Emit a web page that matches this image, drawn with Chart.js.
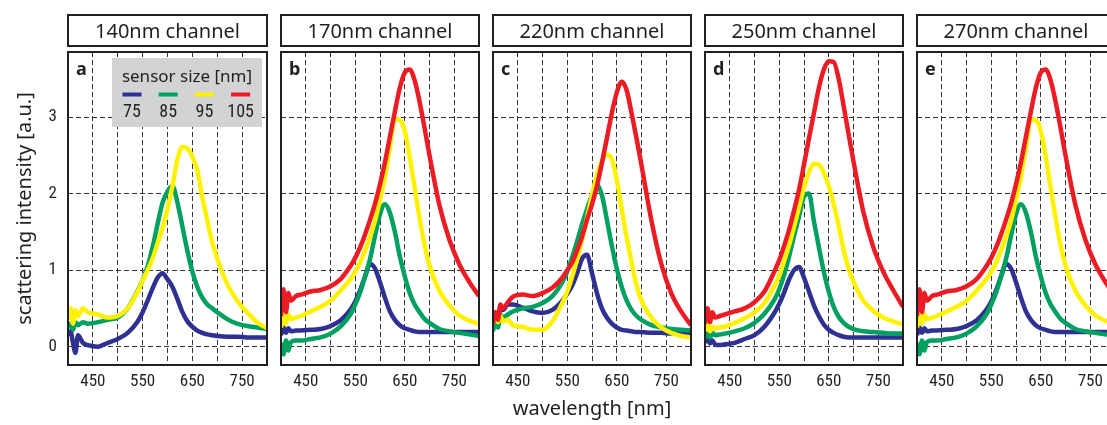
<!DOCTYPE html>
<html>
<head>
<meta charset="utf-8">
<script src="https://cdn.jsdelivr.net/npm/chart.js@4/dist/chart.umd.min.js"></script>
<style>
html, body { margin: 0; padding: 0; background: #fff; width: 1107px; height: 425px; overflow: hidden; position: relative; }
canvas { position: absolute; top: 0; }
</style>
</head>
<body>
<script>
// wavelength grid shared by every spectrum (nm)
var wavelength = [400, 405, 410, 415, 420, 430, 440, 460, 480, 500, 520, 540, 550, 560, 570, 580, 590,
                  600, 610, 620, 630, 640, 650, 660, 670, 680, 690, 700, 720, 740, 760, 780, 800];
var xLabels = [450, 550, 650, 750];
var yLabels = [0, 1, 2, 3];
var sizes = ['75', '85', '95', '105'];
var colors = ['#2e3192', '#00a160', '#fff200', '#ed1c24'];
var panelTitles = ['140nm channel', '170nm channel', '220nm channel', '250nm channel', '270nm channel'];
var panelLetters = ['a', 'b', 'c', 'd', 'e'];

// a - 140nm channel (no 105nm sensor)
var a75  = [0.15, 0.2, 0.05, -0.08, 0.15, 0.05, 0.02, 0.0, 0.05, 0.1, 0.18, 0.33, 0.45, 0.6, 0.76, 0.9, 0.96, 0.88, 0.78, 0.62, 0.45, 0.33, 0.26, 0.21, 0.18, 0.16, 0.15, 0.14, 0.13, 0.13, 0.12, 0.12, 0.12];
var a85  = [0.25, 0.3, 0.22, 0.32, 0.28, 0.32, 0.3, 0.32, 0.35, 0.38, 0.5, 0.73, 0.87, 1.05, 1.3, 1.6, 1.88, 2.03, 2.1, 1.88, 1.57, 1.25, 0.98, 0.78, 0.64, 0.55, 0.5, 0.45, 0.36, 0.3, 0.27, 0.25, 0.23];
var a95  = [0.35, 0.5, 0.3, 0.48, 0.4, 0.5, 0.45, 0.42, 0.38, 0.4, 0.5, 0.72, 0.86, 1.0, 1.15, 1.35, 1.55, 1.8, 2.1, 2.45, 2.61, 2.59, 2.48, 2.3, 1.95, 1.65, 1.36, 1.15, 0.82, 0.6, 0.45, 0.32, 0.24];

// b - 170nm channel
var b75  = [0.15, 0.25, 0.18, 0.24, 0.2, 0.21, 0.21, 0.22, 0.23, 0.27, 0.34, 0.48, 0.59, 0.74, 0.92, 1.08, 1.02, 0.84, 0.64, 0.46, 0.35, 0.28, 0.24, 0.22, 0.2, 0.19, 0.19, 0.19, 0.19, 0.19, 0.19, 0.19, 0.19];
var b85  = [0.05, -0.1, 0.08, -0.05, 0.06, 0.08, 0.08, 0.1, 0.12, 0.17, 0.26, 0.42, 0.55, 0.71, 0.92, 1.15, 1.45, 1.73, 1.86, 1.75, 1.5, 1.18, 0.92, 0.7, 0.55, 0.45, 0.36, 0.31, 0.23, 0.2, 0.18, 0.16, 0.14];
var b95  = [0.25, 0.4, 0.3, 0.42, 0.36, 0.38, 0.4, 0.46, 0.52, 0.6, 0.73, 0.88, 0.98, 1.1, 1.26, 1.44, 1.65, 1.92, 2.22, 2.6, 2.97, 2.96, 2.82, 2.48, 2.08, 1.68, 1.33, 1.06, 0.73, 0.54, 0.41, 0.34, 0.3];
var b105 = [0.4, 0.75, 0.45, 0.7, 0.6, 0.66, 0.68, 0.72, 0.74, 0.79, 0.88, 1.05, 1.16, 1.3, 1.47, 1.66, 1.87, 2.12, 2.41, 2.74, 3.07, 3.38, 3.58, 3.62, 3.48, 3.2, 2.86, 2.5, 1.85, 1.4, 1.08, 0.85, 0.66];

// c - 220nm channel
var c75  = [0.25, 0.45, 0.35, 0.5, 0.48, 0.55, 0.55, 0.51, 0.46, 0.44, 0.48, 0.6, 0.69, 0.8, 0.96, 1.15, 1.2, 0.96, 0.7, 0.5, 0.38, 0.3, 0.25, 0.22, 0.21, 0.2, 0.19, 0.19, 0.18, 0.18, 0.17, 0.17, 0.17];
var c85  = [0.2, 0.35, 0.25, 0.42, 0.38, 0.42, 0.46, 0.5, 0.52, 0.57, 0.66, 0.84, 0.98, 1.17, 1.38, 1.6, 1.8, 1.98, 2.12, 1.98, 1.66, 1.32, 1.02, 0.78, 0.6, 0.48, 0.4, 0.35, 0.28, 0.25, 0.23, 0.22, 0.21];
var c95  = [0.3, 0.45, 0.32, 0.4, 0.33, 0.35, 0.28, 0.26, 0.22, 0.22, 0.33, 0.57, 0.72, 0.92, 1.14, 1.4, 1.68, 1.98, 2.24, 2.42, 2.51, 2.45, 2.18, 1.8, 1.43, 1.1, 0.8, 0.6, 0.38, 0.25, 0.18, 0.14, 0.12];
var c105 = [0.3, 0.45, 0.35, 0.55, 0.5, 0.58, 0.65, 0.68, 0.66, 0.7, 0.77, 0.9, 1.0, 1.1, 1.26, 1.44, 1.66, 1.86, 2.1, 2.4, 2.72, 3.05, 3.32, 3.46, 3.35, 3.05, 2.72, 2.37, 1.65, 1.08, 0.7, 0.46, 0.28];

// d - 250nm channel
var d75  = [0.05, 0.12, 0.04, 0.08, 0.03, 0.02, 0.03, 0.05, 0.1, 0.15, 0.26, 0.44, 0.56, 0.71, 0.88, 1.0, 1.04, 0.9, 0.72, 0.54, 0.4, 0.29, 0.22, 0.18, 0.15, 0.13, 0.12, 0.12, 0.12, 0.12, 0.12, 0.12, 0.12];
var d85  = [0.1, 0.22, 0.12, 0.18, 0.15, 0.16, 0.17, 0.2, 0.24, 0.31, 0.43, 0.61, 0.75, 0.94, 1.18, 1.45, 1.7, 1.96, 2.0, 1.64, 1.3, 0.98, 0.72, 0.52, 0.39, 0.31, 0.26, 0.23, 0.2, 0.19, 0.18, 0.17, 0.17];
var d95  = [0.2, 0.3, 0.2, 0.26, 0.24, 0.25, 0.26, 0.31, 0.37, 0.45, 0.57, 0.79, 0.93, 1.12, 1.33, 1.57, 1.82, 2.08, 2.28, 2.39, 2.38, 2.27, 2.1, 1.86, 1.58, 1.27, 1.02, 0.85, 0.6, 0.47, 0.38, 0.33, 0.29];
var d105 = [0.3, 0.5, 0.32, 0.45, 0.38, 0.4, 0.42, 0.46, 0.5, 0.58, 0.72, 0.98, 1.13, 1.32, 1.53, 1.78, 2.05, 2.38, 2.72, 3.05, 3.38, 3.62, 3.73, 3.72, 3.5, 3.15, 2.78, 2.42, 1.76, 1.3, 0.98, 0.74, 0.52];

// e - 270nm channel (same spectra as b in the figure)
var e75 = b75, e85 = b85, e95 = b95, e105 = b105;

var panelSeries = [
  [a75, a85, a95],
  [b75, b85, b95, b105],
  [c75, c85, c95, c105],
  [d75, d85, d95, d105],
  [e75, e85, e95, e105]
];

var ink = '#231f20';
// numbers in the figure are set in a condensed face
var numFamily = "'Roboto Condensed', 'Noto Sans', sans-serif";
var numSize = 17;

Chart.defaults.font.family = "'Noto Sans', sans-serif";
Chart.defaults.color = ink;

// frame, title box, panel letter and (panel a) legend
var panelDeco = {
  id: 'panelDeco',
  afterDraw: function (chart, args, opts) {
    var ctx = chart.ctx, ca = chart.chartArea;
    var w = ca.right - ca.left;
    ctx.save();
    if (opts.legend) {
      var lx = ca.left + 44, ly = ca.top + 6;
      ctx.fillStyle = '#d1d3d4';
      ctx.fillRect(lx, ly, 150, 69);
      ctx.fillStyle = ink;
      ctx.textAlign = 'center';
      ctx.font = "17px 'Noto Sans'";
      ctx.fillText('sensor size [nm]', lx + 75, ly + 23.5);
      ctx.font = (numSize + 1) + 'px ' + numFamily;
      for (var k = 0; k < sizes.length; k++) {
        var cx = lx + 20 + k * 36.2;
        ctx.strokeStyle = colors[k];
        ctx.lineWidth = 4;
        ctx.beginPath();
        ctx.moveTo(cx - 9.5, ly + 36.5);
        ctx.lineTo(cx + 9.5, ly + 36.5);
        ctx.stroke();
        ctx.fillText(sizes[k], cx, ly + 59);
      }
    }
    ctx.strokeStyle = ink;
    ctx.lineWidth = 2;
    ctx.strokeRect(ca.left, ca.top, w, ca.bottom - ca.top);
    ctx.strokeRect(ca.left, 15, w, 31);
    ctx.fillStyle = ink;
    ctx.textAlign = 'center';
    ctx.font = "20px 'Noto Sans'";
    ctx.fillText(opts.title, ca.left + w / 2, 37.5);
    ctx.textAlign = 'left';
    ctx.font = "bold 18px 'Noto Sans'";
    ctx.fillText(opts.letter, ca.left + 8, 75);
    ctx.restore();
  }
};

function makePanel(i) {
  var boxLeft = 68 + 212 * i;
  var padL = i === 0 ? 68 : 6;
  var cv = document.createElement('canvas');
  cv.width = padL + 206;
  cv.height = 425;
  cv.style.left = (boxLeft - padL) + 'px';
  document.body.appendChild(cv);

  var series = panelSeries[i];
  var datasets = [];
  // the first dataset is drawn on top, so put the largest sensor first
  for (var k = series.length - 1; k >= 0; k--) {
    datasets.push({
      label: sizes[k],
      data: wavelength.map(function (w, j) { return { x: w, y: series[k][j] }; }),
      borderColor: colors[k],
      borderWidth: 4.5,
      pointRadius: 0,
      fill: false,
      cubicInterpolationMode: 'monotone'
    });
  }

  new Chart(cv, {
    type: 'line',
    data: { datasets: datasets },
    options: {
      responsive: false,
      animation: false,
      events: [],
      layout: { padding: { top: 52, right: 6, left: 0, bottom: 0 } },
      plugins: {
        legend: { display: false },
        tooltip: { enabled: false },
        panelDeco: { title: panelTitles[i], letter: panelLetters[i], legend: i === 0 }
      },
      scales: {
        x: {
          type: 'linear',
          min: 400,
          max: 800,
          afterFit: function (s) { s.height = 60; },
          ticks: {
            stepSize: 50,
            autoSkip: false,
            maxRotation: 0,
            padding: 7,
            font: { family: numFamily, size: numSize },
            color: ink,
            callback: function (v) { return xLabels.indexOf(v) >= 0 ? String(v) : ''; }
          },
          grid: { color: '#333333', lineWidth: 1, drawTicks: false },
          border: { display: false, dash: [5, 3] },
          title: { display: i === 2, text: 'wavelength [nm]', font: { size: 20 }, color: ink }
        },
        y: {
          min: -0.24,
          max: 3.85,
          afterFit: function (s) { s.width = padL; },
          ticks: {
            display: i === 0,
            stepSize: 1,
            includeBounds: false,
            padding: 11,
            font: { family: numFamily, size: numSize },
            color: ink,
            callback: function (v) { return yLabels.indexOf(v) >= 0 ? String(v) : ''; }
          },
          grid: { color: '#333333', lineWidth: 1, drawTicks: false },
          border: { display: false, dash: [5, 3] },
          title: { display: i === 0, text: 'scattering intensity [a.u.]', font: { size: 20 }, color: ink, padding: { top: 13, bottom: 0 } }
        }
      }
    },
    plugins: [panelDeco]
  });
}

for (var p = 0; p < panelTitles.length; p++) makePanel(p);
</script>
</body>
</html>
